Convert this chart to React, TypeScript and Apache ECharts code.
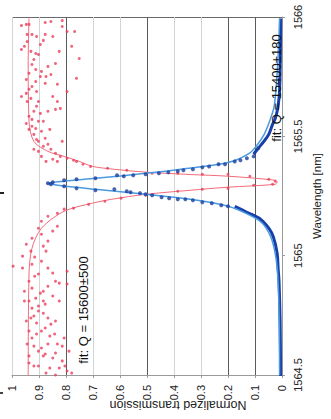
import React, { useEffect, useRef } from "react";
import * as echarts from "echarts";

// [transmission, wavelength]
const redPoints: [number, number][] = [
  [0.965, 1565.964], [0.947, 1565.969], [0.937, 1565.969], [0.877, 1565.977], [0.856, 1565.981],
  [0.814, 1565.985], [0.796, 1565.939], [0.768, 1565.939], [0.944, 1565.927], [0.926, 1565.927],
  [0.909, 1565.918], [0.877, 1565.927], [0.884, 1565.902], [0.895, 1565.885], [0.965, 1565.864],
  [0.93, 1565.856], [0.912, 1565.847], [0.902, 1565.843], [0.751, 1565.826], [0.839, 1565.805],
  [0.926, 1565.801], [0.912, 1565.78], [0.891, 1565.772], [0.895, 1565.751], [0.874, 1565.751],
  [0.856, 1565.759], [0.761, 1565.743], [0.912, 1565.73], [0.877, 1565.722], [0.832, 1565.718],
  [0.937, 1565.697], [0.947, 1565.68], [0.965, 1565.667], [0.93, 1565.659], [0.902, 1565.646],
  [0.832, 1565.646], [0.909, 1565.626], [0.867, 1565.605], [0.839, 1565.613], [0.821, 1565.617],
  [0.937, 1565.584], [0.926, 1565.571], [0.902, 1565.563], [0.912, 1565.533], [0.937, 1565.529],
  [0.891, 1565.521], [0.919, 1565.508], [0.877, 1565.492], [0.902, 1565.479], [0.867, 1565.467],
  [0.856, 1565.446], [0.891, 1565.416], [0.839, 1565.429], [0.821, 1565.416], [0.796, 1565.408],
  [0.772, 1565.4], [0.737, 1565.383], [0.709, 1565.374],
  [0.944, 1565.897], [0.954, 1565.877], [0.919, 1565.822], [0.937, 1565.764], [0.947, 1565.738],
  [0.926, 1565.709], [0.909, 1565.688], [0.944, 1565.646], [0.919, 1565.605], [0.895, 1565.596],
  [0.947, 1565.554], [0.926, 1565.542], [0.909, 1565.487], [0.884, 1565.458], [0.919, 1565.446],
  [0.874, 1565.395], [0.849, 1565.404], [0.832, 1565.395], [0.902, 1565.437], [0.814, 1565.96],
  [0.779, 1565.877], [0.849, 1565.918], [0.825, 1565.856], [0.867, 1565.793], [0.796, 1565.688],
  [0.849, 1565.667], [0.884, 1565.563], [0.86, 1565.529], [0.814, 1565.479], [0.761, 1565.395],
  [0.646, 1565.366], [0.575, 1565.358], [0.481, 1565.345], [0.386, 1565.345], [0.295, 1565.341],
  [0.2, 1565.341], [0.119, 1565.333], [0.049, 1565.32], [0.025, 1565.312], [0.035, 1565.299],
  [0.105, 1565.295], [0.2, 1565.282], [0.295, 1565.278], [0.386, 1565.27], [0.505, 1565.253],
  [0.596, 1565.241], [0.656, 1565.228], [0.716, 1565.215], [0.772, 1565.199], [0.807, 1565.195],
  [0.832, 1565.178], [0.867, 1565.165], [0.891, 1565.144], [0.902, 1565.115], [0.926, 1565.073],
  [0.947, 1565.048], [0.961, 1564.998], [0.996, 1564.956], [0.93, 1565.019], [0.891, 1565.09],
  [0.867, 1565.061], [0.926, 1564.964], [0.867, 1564.948], [0.902, 1564.923],
  [0.891, 1564.977], [0.839, 1564.893], [0.825, 1564.885], [0.796, 1564.881], [0.926, 1564.864],
  [0.912, 1564.822], [0.884, 1564.81], [0.877, 1564.797], [0.926, 1564.78], [0.93, 1564.739],
  [0.867, 1564.739], [0.856, 1564.713], [0.877, 1564.697], [0.891, 1564.684], [0.909, 1564.672],
  [0.842, 1564.672], [0.832, 1564.63], [0.807, 1564.655], [0.867, 1564.63], [0.902, 1564.6],
  [0.877, 1564.588], [0.849, 1564.571], [0.814, 1564.559], [0.86, 1564.529], [0.825, 1564.529],
  [0.796, 1564.517], [0.779, 1564.508], [0.926, 1564.655], [0.944, 1564.63], [0.891, 1564.613],
  [0.796, 1564.935], [0.961, 1564.948], [0.937, 1564.58], [0.919, 1564.538], [0.947, 1564.726],
  [0.902, 1564.768], [0.884, 1564.851],
  [0.937, 1564.893], [0.916, 1564.914], [0.954, 1564.851], [0.895, 1564.843], [0.849, 1564.831],
  [0.937, 1564.81], [0.902, 1564.789], [0.825, 1564.81], [0.919, 1564.747], [0.884, 1564.759],
  [0.839, 1564.726], [0.909, 1564.718], [0.937, 1564.684], [0.86, 1564.663], [0.814, 1564.621],
  [0.919, 1564.621], [0.884, 1564.58], [0.839, 1564.592], [0.937, 1564.55], [0.902, 1564.538],
  [0.874, 1564.508], [0.839, 1564.5], [0.804, 1564.538], [0.789, 1564.6], [0.954, 1564.81],
  [0.867, 1564.872], [0.849, 1564.927], [0.916, 1564.994], [0.874, 1565.019], [0.832, 1565.123],
  [0.849, 1565.103], [0.884, 1565.04],
];

const redFit: [number, number][] = [
  [0.937, 1565.994], [0.94, 1565.814], [0.937, 1565.563], [0.919, 1565.479], [0.867, 1565.437],
  [0.807, 1565.416], [0.751, 1565.395], [0.702, 1565.374], [0.621, 1565.362], [0.505, 1565.35],
  [0.34, 1565.34], [0.2, 1565.333], [0.025, 1565.316], [0.018, 1565.308], [0.025, 1565.299],
  [0.2, 1565.287], [0.34, 1565.274], [0.505, 1565.257], [0.632, 1565.236], [0.702, 1565.22],
  [0.807, 1565.186], [0.891, 1565.115], [0.926, 1565.031], [0.937, 1564.923], [0.94, 1564.496],
];

const blueFit: [number, number][] = [
  [0.009, 1565.994], [0.012, 1565.9], [0.016, 1565.8], [0.022, 1565.7], [0.03, 1565.62],
  [0.047, 1565.56], [0.066, 1565.508], [0.09, 1565.467], [0.12, 1565.43], [0.2, 1565.39],
  [0.375, 1565.362], [0.505, 1565.345], [0.691, 1565.324], [0.807, 1565.312], [0.867, 1565.303],
  [0.83, 1565.295], [0.691, 1565.278], [0.505, 1565.257], [0.34, 1565.236], [0.2, 1565.207],
  [0.12, 1565.17], [0.072, 1565.135], [0.042, 1565.08], [0.027, 1565.02], [0.018, 1564.95],
  [0.013, 1564.85], [0.01, 1564.7], [0.009, 1564.5],
];

const blueEdgeTop: [number, number][] = [
  [0.005, 1565.994], [0.006, 1565.85], [0.008, 1565.72], [0.011, 1565.659], [0.018, 1565.605],
  [0.025, 1565.575], [0.035, 1565.55], [0.049, 1565.508], [0.067, 1565.479], [0.088, 1565.45],
  [0.105, 1565.425],
];

const blueEdgeBottom: [number, number][] = [
  [0.175, 1565.207], [0.13, 1565.182], [0.084, 1565.157], [0.049, 1565.115], [0.032, 1565.078],
  [0.018, 1565.01], [0.014, 1564.94], [0.011, 1564.893], [0.007, 1564.726], [0.005, 1564.496],
];

const bluePoints: [number, number][] = [
  [0.088, 1565.45], [0.105, 1565.416], [0.13, 1565.408], [0.154, 1565.4], [0.175, 1565.395],
  [0.211, 1565.383], [0.235, 1565.383], [0.27, 1565.374], [0.295, 1565.37], [0.33, 1565.362],
  [0.365, 1565.358], [0.386, 1565.354], [0.421, 1565.349], [0.456, 1565.345], [0.505, 1565.341],
  [0.551, 1565.337], [0.586, 1565.333], [0.611, 1565.337], [0.691, 1565.324], [0.761, 1565.32],
  [0.807, 1565.316], [0.849, 1565.308], [0.867, 1565.303],
  [0.856, 1565.299], [0.807, 1565.291], [0.761, 1565.282], [0.691, 1565.274], [0.621, 1565.278],
  [0.575, 1565.27], [0.561, 1565.266], [0.526, 1565.262], [0.505, 1565.257], [0.481, 1565.253],
  [0.446, 1565.245], [0.418, 1565.241], [0.386, 1565.236], [0.358, 1565.236], [0.33, 1565.232],
  [0.295, 1565.224], [0.26, 1565.22], [0.225, 1565.211], [0.2, 1565.207],
];

const wavelengthRange = [1564.5, 1566];
const wavelengthStep = 0.5;
const transmissionRange = [0, 1];
const transmissionStep = 0.1;
const fitLabels = ["fit: Q = 15600±500", "fit: Q = 15400±180"];
const xTitle = "Normalized transmission";
const yTitle = "Wavelength [nm]";

const FONT = "'Liberation Sans', Arial, sans-serif";

export default function App() {
  const ref = useRef<HTMLDivElement>(null);
  useEffect(() => {
    if (!ref.current) return;
    const chart = echarts.init(ref.current, undefined, { renderer: "svg" });
    const light = "#d4d4d4";
    const dark = "#5a5a5a";
    chart.setOption({
      animation: false,
      backgroundColor: "#ffffff",
      textStyle: { fontFamily: FONT },
      grid: { left: 12, right: 34, top: 17, bottom: 44 },
      xAxis: {
        type: "value",
        min: transmissionRange[0],
        max: transmissionRange[1],
        interval: transmissionStep,
        inverse: true,
        position: "bottom",
        axisLine: { show: true, lineStyle: { color: "#9a9a9a", width: 1 } },
        axisTick: { show: true, length: 3, lineStyle: { color: "#9a9a9a" } },
        axisLabel: {
          rotate: 90,
          fontSize: 11,
          color: "#222",
          margin: 10,
          fontFamily: FONT,
          formatter: (v: number) => String(Math.round(v * 10) / 10),
        },
        splitLine: {
          show: true,
          lineStyle: {
            width: 1,
            color: [light, dark, dark, light, light, dark, light, light, dark, light, light],
          },
        },
      },
      yAxis: {
        type: "value",
        min: wavelengthRange[0],
        max: wavelengthRange[1],
        interval: wavelengthStep,
        position: "right",
        axisLine: { show: true, lineStyle: { color: "#9a9a9a", width: 1 } },
        axisTick: { show: true, length: 3, lineStyle: { color: "#9a9a9a" } },
        axisLabel: {
          rotate: 90,
          fontSize: 11,
          color: "#222",
          margin: 10,
          fontFamily: FONT,
          formatter: (v: number) => String(v),
        },
        splitLine: {
          show: true,
          lineStyle: { width: 1, color: ["transparent", "transparent", "transparent", "#6a6a6a"] },
        },
        name: yTitle,
        nameLocation: "middle",
        nameRotate: 90,
        nameGap: 29,
        nameTextStyle: { fontSize: 11.5, color: "#222", fontFamily: FONT },
      },
      series: [
        {
          name: "red fit",
          type: "line",
          data: redFit,
          showSymbol: false,
          smooth: 0.3,
          lineStyle: { color: "#f26b7a", width: 1 },
          z: 2,
        },
        {
          name: "red data",
          type: "scatter",
          data: redPoints,
          symbol: "circle",
          symbolSize: 3,
          itemStyle: { color: "#ea3f5c", opacity: 0.8 },
          z: 3,
        },
        {
          name: "blue edge top",
          type: "line",
          data: blueEdgeTop,
          showSymbol: false,
          smooth: 0.3,
          lineStyle: { color: "#1840a8", width: 3 },
          z: 4,
        },
        {
          name: "blue edge bottom",
          type: "line",
          data: blueEdgeBottom,
          showSymbol: false,
          smooth: 0.3,
          lineStyle: { color: "#1840a8", width: 3 },
          z: 4,
        },
        {
          name: "blue fit",
          type: "line",
          data: blueFit,
          showSymbol: false,
          smooth: 0.3,
          lineStyle: { color: "#4a9ae0", width: 1.5 },
          z: 5,
        },
        {
          name: "blue data",
          type: "scatter",
          data: bluePoints,
          symbol: "circle",
          symbolSize: 4,
          itemStyle: { color: "#1a3f9e" },
          z: 6,
        },
      ],
      graphic: [
        {
          type: "text",
          x: 83,
          y: 310,
          rotation: Math.PI / 2,
          style: {
            text: fitLabels[0],
            fontSize: 13,
            fontFamily: FONT,
            fill: "#111",
            textAlign: "center",
            textVerticalAlign: "middle",
          },
          z: 10,
        },
        {
          type: "text",
          x: 276,
          y: 88,
          rotation: Math.PI / 2,
          style: {
            text: fitLabels[1],
            fontSize: 13,
            fontFamily: FONT,
            fill: "#111",
            textAlign: "center",
            textVerticalAlign: "middle",
          },
          z: 10,
        },
        {
          type: "text",
          x: 178,
          y: 405,
          rotation: Math.PI,
          style: {
            text: xTitle,
            fontSize: 12.5,
            fontFamily: FONT,
            fill: "#222",
            textAlign: "center",
            textVerticalAlign: "middle",
          },
        },
        { type: "rect", shape: { x: 0, y: 192, width: 4, height: 2 }, style: { fill: "#222" } },
        { type: "rect", shape: { x: 0, y: 392, width: 3, height: 2 }, style: { fill: "#444" } },
      ],
    });
    return () => chart.dispose();
  }, []);
  return <div ref={ref} style={{ width: 331, height: 419, position: "absolute", left: 0, top: 0 }} />;
}
